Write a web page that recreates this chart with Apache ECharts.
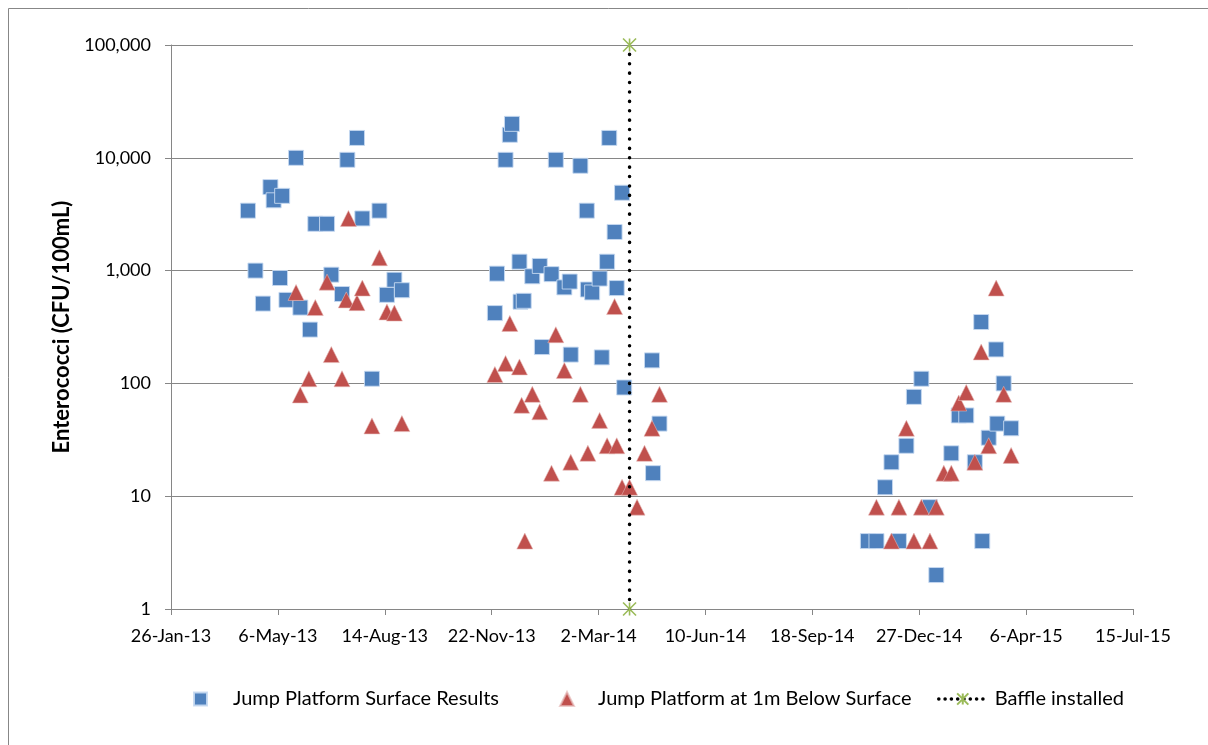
<!DOCTYPE html>
<html>
<head>
<meta charset="utf-8">
<script src="https://cdn.jsdelivr.net/npm/echarts@6/dist/echarts.min.js"></script>
<style>
  html, body { margin: 0; padding: 0; background: #fff; }
  #chart { width: 1208px; height: 745px; }
</style>
</head>
<body>
<div id="chart"></div>
<script>
// Enterococci samples at the jump platform
const surfaceDates = [
  '2013-04-08','2013-04-15','2013-04-22','2013-04-29','2013-05-02','2013-05-08','2013-05-10','2013-05-14',
  '2013-05-23','2013-05-27','2013-06-05','2013-06-10','2013-06-21','2013-06-25','2013-07-05','2013-07-10',
  '2013-07-19','2013-07-24','2013-08-02','2013-08-09','2013-08-16','2013-08-23','2013-08-30',
  '2013-11-25','2013-11-27','2013-12-05','2013-12-09','2013-12-11','2013-12-18','2013-12-19','2013-12-22',
  '2013-12-30','2014-01-06','2014-01-08','2014-01-17','2014-01-21','2014-01-29','2014-02-03','2014-02-04',
  '2014-02-13','2014-02-19','2014-02-20','2014-02-24','2014-03-03','2014-03-05','2014-03-10','2014-03-12',
  '2014-03-17','2014-03-19','2014-03-24','2014-03-26','2014-04-21','2014-04-22','2014-04-28',
  '2014-11-09','2014-11-17','2014-11-25','2014-12-01','2014-12-08','2014-12-15','2014-12-22','2014-12-29',
  '2015-01-06','2015-01-12','2015-01-26','2015-02-02','2015-02-09','2015-02-17','2015-02-23','2015-02-24',
  '2015-03-02','2015-03-09','2015-03-10','2015-03-16','2015-03-23'
];
const surfaceValues = [
  3400, 1000, 510, 5500, 4200, 860, 4600, 550,
  10000, 470, 300, 2600, 2600, 920, 620, 9600,
  15000, 2900, 110, 3400, 610, 830, 670,
  420, 940, 9600, 16000, 20000, 1200, 530, 540,
  890, 1100, 210, 930, 9600, 710, 800, 180,
  8500, 3400, 680, 640, 850, 170, 1200, 15000,
  2200, 700, 4900, 92, 160, 16, 44,
  4, 4, 12, 20, 4, 28, 76, 110,
  8, 2, 24, 52, 52, 20, 350, 4,
  33, 200, 44, 100, 40
];

const belowDates = [
  '2013-05-23','2013-05-27','2013-06-04','2013-06-10','2013-06-21','2013-06-25','2013-07-05','2013-07-09',
  '2013-07-11','2013-07-19','2013-07-24','2013-08-02','2013-08-09','2013-08-16','2013-08-23','2013-08-30',
  '2013-11-25','2013-12-05','2013-12-09','2013-12-18','2013-12-20','2013-12-23','2013-12-30','2014-01-06',
  '2014-01-17','2014-01-21','2014-01-29','2014-02-04','2014-02-13','2014-02-20','2014-03-03','2014-03-10',
  '2014-03-17','2014-03-19','2014-03-24','2014-03-31','2014-04-07','2014-04-14','2014-04-21','2014-04-28',
  '2014-11-17','2014-12-01','2014-12-08','2014-12-15','2014-12-22','2014-12-29','2015-01-06','2015-01-12',
  '2015-01-19','2015-01-26','2015-02-02','2015-02-09','2015-02-17','2015-02-23','2015-03-02','2015-03-09',
  '2015-03-16','2015-03-23'
];
const belowValues = [
  640, 79, 110, 470, 790, 180, 110, 550,
  2900, 520, 700, 42, 1300, 430, 420, 44,
  120, 150, 340, 140, 64, 4, 80, 56,
  16, 270, 130, 20, 80, 24, 47, 28,
  480, 28, 12, 12, 8, 24, 40, 80,
  8, 4, 8, 40, 4, 8, 4, 8,
  16, 16, 67, 83, 20, 190, 28, 700,
  80, 23
];

const baffleDate = '2014-03-31';
const baffleRange = [1, 100000];

const axisStartDate = '2013-01-26';
const axisSpanDays = 900;
const axisStepDays = 100;
const monthNames = ['Jan','Feb','Mar','Apr','May','Jun','Jul','Aug','Sep','Oct','Nov','Dec'];

const DAY = 86400000;
function utc(s) {
  const p = s.split('-').map(Number);
  return Date.UTC(p[0], p[1] - 1, p[2]);
}
const base = utc(axisStartDate);
function dayOffset(s) { return Math.round((utc(s) - base) / DAY); }
function dayLabel(v) {
  const d = new Date(base + Math.round(v) * DAY);
  return d.getUTCDate() + '-' + monthNames[d.getUTCMonth()] + '-' + String(d.getUTCFullYear()).slice(2);
}

const surfaceData = surfaceDates.map((d, i) => [dayOffset(d), surfaceValues[i]]);
const belowData = belowDates.map((d, i) => [dayOffset(d), belowValues[i]]);
const baffleData = baffleRange.map(v => [dayOffset(baffleDate), v]);

const FONT = 'Lato, "Liberation Sans", sans-serif';
const GREY = '#868686';
const STAR = 'path://M0,0L10,10M10,0L0,10M5,0L5,10';
const legendText = { color: '#000', fontSize: 20, fontFamily: FONT };

const chart = echarts.init(document.getElementById('chart'), null, { renderer: 'canvas' });
chart.setOption({
  animation: false,
  backgroundColor: '#ffffff',
  textStyle: { fontFamily: FONT },
  graphic: [{
    type: 'rect',
    shape: { x: 8.5, y: 8.5, width: 1300, height: 900 },
    style: { fill: 'none', stroke: '#878787', lineWidth: 1 },
    silent: true,
    z: -10
  }],
  grid: { left: 171, right: 75, top: 45, bottom: 136, containLabel: false },
  xAxis: {
    type: 'value',
    min: 0,
    max: axisSpanDays,
    interval: axisStepDays,
    axisLine: { show: true, lineStyle: { color: GREY, width: 1 } },
    axisTick: { show: true, length: 6, lineStyle: { color: GREY } },
    splitLine: { show: false },
    axisLabel: {
      margin: 18,
      color: '#000',
      fontSize: 18,
      fontFamily: FONT,
      formatter: dayLabel
    }
  },
  yAxis: {
    type: 'log',
    logBase: 10,
    min: 1,
    max: 100000,
    name: 'Enterococci (CFU/100mL)',
    nameLocation: 'middle',
    nameGap: 96,
    nameTextStyle: { color: '#000', fontSize: 22, fontWeight: 'bold', fontFamily: FONT },
    axisLine: { show: true, lineStyle: { color: GREY, width: 1 } },
    axisTick: { show: true, length: 6, lineStyle: { color: GREY } },
    minorTick: { show: false },
    splitLine: { show: true, lineStyle: { color: GREY, width: 1 } },
    axisLabel: {
      margin: 20,
      color: '#000',
      fontSize: 18,
      fontFamily: FONT,
      formatter: v => Math.round(v).toLocaleString('en-US')
    }
  },
  legend: [
    {
      data: [{ name: 'Jump Platform Surface Results', icon: 'rect' }],
      left: 188, top: 684,
      itemWidth: 13, itemHeight: 13,
      textStyle: Object.assign({ padding: [0, 0, 0, 21] }, legendText)
    },
    {
      data: [{ name: 'Jump Platform at 1m Below Surface', icon: 'triangle' }],
      left: 554, top: 684,
      itemWidth: 14, itemHeight: 14,
      textStyle: Object.assign({ padding: [0, 0, 0, 19] }, legendText)
    },
    {
      data: ['Baffle installed'],
      left: 932, top: 684,
      itemWidth: 48, itemHeight: 14,
      lineStyle: { color: '#000', width: 3.5, type: [0.1, 6.2], cap: 'round' },
      textStyle: Object.assign({ padding: [0, 0, 0, 3] }, legendText)
    }
  ],
  series: [
    {
      name: 'Jump Platform Surface Results',
      type: 'scatter',
      symbol: 'rect',
      symbolSize: 15,
      itemStyle: { color: '#4F81BD', opacity: 1, borderColor: 'rgba(198,217,241,0.9)', borderWidth: 1 },
      data: surfaceData
    },
    {
      name: 'Jump Platform at 1m Below Surface',
      type: 'scatter',
      symbol: 'triangle',
      symbolSize: 16,
      itemStyle: { color: '#C0504D', opacity: 1, borderColor: 'rgba(230,185,184,0.7)', borderWidth: 0.8 },
      data: belowData
    },
    {
      name: 'Baffle installed',
      type: 'line',
      symbol: STAR,
      symbolSize: 13,
      showSymbol: true,
      itemStyle: { color: 'rgba(0,0,0,0)', borderColor: '#9BBB59', borderWidth: 1.6 },
      lineStyle: { color: '#000', width: 3.5, type: [0.1, 9.3], cap: 'round' },
      z: 5,
      data: baffleData
    }
  ]
});
</script>
</body>
</html>
